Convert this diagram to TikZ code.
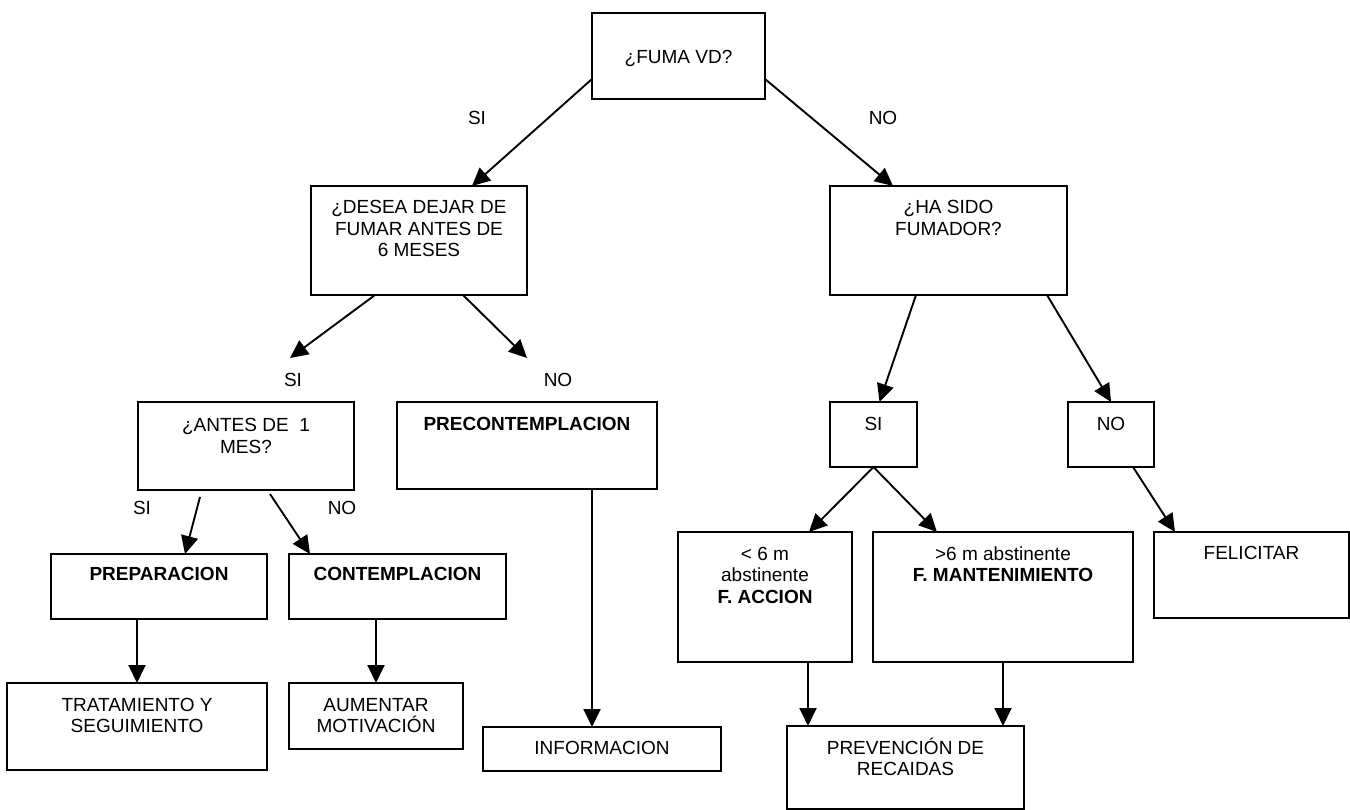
\documentclass[tikz,border=0pt]{standalone}
\usepackage{fontspec}
\setmainfont{Liberation Sans}
\usetikzlibrary{arrows.meta}

\newcommand{\textocaja}[4][28pt]{\parbox[c][#3][t]{#2}{\centering\rule{0pt}{#1}#4}}

\begin{document}
\begin{tikzpicture}[x=1pt, y=-1pt, font=\fontsize{19}{21.5}\selectfont,
  caja/.style={draw, line width=1.9pt, inner sep=0pt, outer sep=0pt},
  flecha/.style={line width=1.9pt, -{Triangle[length=18pt, width=17pt]}},
  etiqueta/.style={inner sep=0pt}]

        \useasboundingbox (0,0) rectangle (1350,810);

        \node[caja] (fuma) at (678.5,56) {\textocaja[51pt]{173pt}{86pt}{¿FUMA VD?}};
        \node[caja] (desea) at (419,240.5) {\textocaja{216pt}{109pt}{¿DESEA DEJAR DE\\FUMAR ANTES DE\\6 MESES}};
        \node[caja] (hasido) at (948.5,240.5) {\textocaja{237pt}{109pt}{¿HA SIDO\\FUMADOR?}};
        \node[caja] (antes) at (246,446) {\textocaja[30pt]{216pt}{88pt}{¿ANTES DE\ \ 1\\MES?}};
        \node[caja] (precont) at (527,445.5) {\textocaja{260pt}{87pt}{\textbf{PRECONTEMPLACION}}};
        \node[caja] (fumsi) at (873.5,434.5) {\textocaja{87pt}{65pt}{SI}};
        \node[caja] (fumno) at (1111,434.5) {\textocaja{86pt}{65pt}{NO}};
        \node[caja] (prep) at (159,586.5) {\textocaja[26pt]{216pt}{65pt}{\textbf{PREPARACION}}};
        \node[caja] (contemp) at (397.5,586.5) {\textocaja[26pt]{217pt}{65pt}{\textbf{CONTEMPLACION}}};
        \node[caja] (accion) at (765,597) {\textocaja{174pt}{130pt}{< 6 m\\abstinente\\\textbf{F. ACCION}}};
        \node[caja] (mant) at (1003,597) {\textocaja{260pt}{130pt}{>6 m abstinente\\\textbf{F. MANTENIMIENTO}}};
        \node[caja] (felic) at (1251.5,575) {\textocaja[27pt]{195pt}{86pt}{FELICITAR}};
        \node[caja] (trat) at (137,726.5) {\textocaja{260pt}{87pt}{TRATAMIENTO Y\\SEGUIMIENTO}};
        \node[caja] (aument) at (376,716) {\textocaja{174pt}{66pt}{AUMENTAR\\MOTIVACIÓN}};
        \node[caja] (info) at (602,749) {\textocaja[27pt]{238pt}{44pt}{INFORMACION}};
        \node[caja] (prev) at (905.5,767.5) {\textocaja{237pt}{83pt}{PREVENCIÓN DE\\RECAIDAS}};

        \node[etiqueta] (si1) at (477,118) {SI};
        \node[etiqueta] (no1) at (883,118) {NO};
        \node[etiqueta] (si2) at (293,380) {SI};
        \node[etiqueta] (no2) at (558,380) {NO};
        \node[etiqueta] (si3) at (142,508) {SI};
        \node[etiqueta] (no3) at (342,508) {NO};

        \coordinate (deseasi) at (290,358);
        \coordinate (deseano) at (527,358);
        \coordinate (antessi) at (200,497);
        \coordinate (antesno) at (270,494);
        \coordinate (precontbaja) at ([xshift=65pt]precont.south);
        \coordinate (accionbaja) at ([xshift=43pt]accion.south);

        \path[draw, flecha] ([yshift=-23pt]fuma.west) -- ([xshift=53pt]desea.north);
        \path[draw, flecha] ([yshift=-23pt]fuma.east) -- ([xshift=-55.5pt]hasido.north);
        \path[draw, flecha] ([xshift=-44pt]desea.south) -- (deseasi);
        \path[draw, flecha] ([xshift=44pt]desea.south) -- (deseano);
        \path[draw, flecha] ([xshift=-32.5pt]hasido.south) -- ([xshift=6pt]fumsi.north);
        \path[draw, flecha] ([xshift=98.5pt]hasido.south) -- (fumno.north);
        \path[draw, flecha] (antessi) -- ([xshift=26pt]prep.north);
        \path[draw, flecha] (antesno) -- ([xshift=-87.5pt]contemp.north);
        \path[draw, flecha] (prep.south -| trat.north) -- (trat.north);
        \path[draw, flecha] (contemp.south -| aument.north) -- (aument.north);
        \path[draw, flecha] (precontbaja) -- (precontbaja |- info.north);
        \path[draw, flecha] (fumsi.south) -- ([xshift=44pt]accion.north);
        \path[draw, flecha] (fumsi.south) -- ([xshift=-66pt]mant.north);
        \path[draw, flecha] ([xshift=22pt]fumno.south) -- ([xshift=-76.5pt]felic.north);
        \path[draw, flecha] (accionbaja) -- (accionbaja |- prev.north);
        \path[draw, flecha] (mant.south) -- (mant.south |- prev.north);
\end{tikzpicture}
\end{document}
